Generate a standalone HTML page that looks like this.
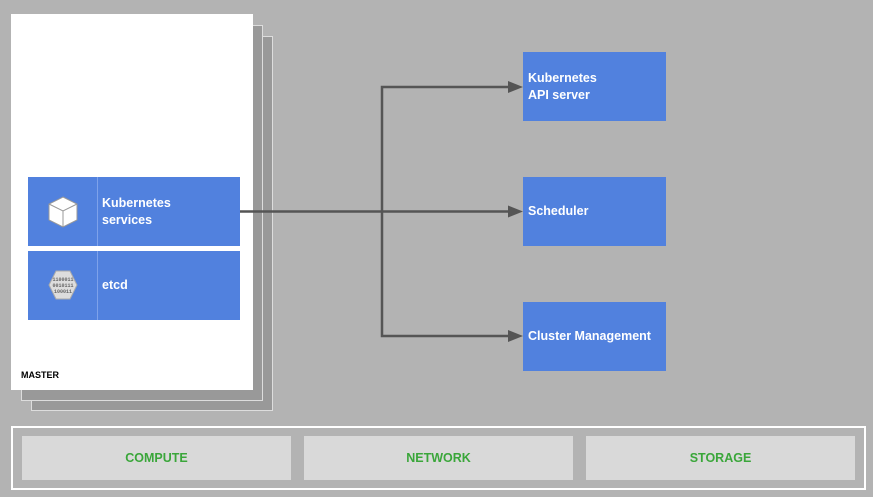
<!DOCTYPE html>
<html><head><style>
body{margin:0;width:873px;height:497px;background:#b3b3b3;position:relative;overflow:hidden;font-family:"Liberation Sans",sans-serif}
div{position:absolute;box-sizing:border-box}
.b{background:#5181de;color:#fff;font-weight:bold;font-size:12.5px;line-height:17px}
.g{background:#d9d9d9;color:#3aa63a;font-weight:bold;font-size:12.5px;text-align:center;line-height:44px;top:436px;height:44px;width:269px}
</style></head><body>
<div style="left:31px;top:36px;width:242px;height:375px;background:#999;border:1px solid #ddd"></div>
<div style="left:21px;top:25px;width:242px;height:376px;background:#999;border:1px solid #ddd"></div>
<div style="left:11px;top:14px;width:242px;height:376px;background:#fff"></div>
<div class="b" style="left:28px;top:177px;width:212px;height:69px"><div style="left:69px;top:0;width:1px;height:69px;background:#7ea2ea"></div><div style="left:74px;top:18px">Kubernetes<br>services</div>
<svg style="position:absolute;left:19px;top:18px" width="32" height="34" viewBox="0 0 32 34"><polygon points="16,2 30,9 30,25 16,32 2,25 2,9" fill="#fff" stroke="#999" stroke-width="1"/><polyline points="2,9 16,16 30,9" fill="none" stroke="#999"/><line x1="16" y1="16" x2="16" y2="32" stroke="#999"/></svg></div>
<div class="b" style="left:28px;top:251px;width:212px;height:69px"><div style="left:69px;top:0;width:1px;height:69px;background:#7ea2ea"></div><div style="left:74px;top:26px">etcd</div>
<svg style="position:absolute;left:19px;top:18px" width="32" height="32" viewBox="0 0 32 32"><polygon points="9,2 23,2 30,16 23,30 9,30 2,16" fill="#ddd" stroke="#aaa"/><text x="16" y="12" font-size="5" text-anchor="middle" fill="#666" font-family="Liberation Mono">1100011</text><text x="16" y="18" font-size="5" text-anchor="middle" fill="#666" font-family="Liberation Mono">0010111</text><text x="16" y="24" font-size="5" text-anchor="middle" fill="#666" font-family="Liberation Mono">100011</text></svg></div>
<div style="left:21px;top:370px;font-size:9px;font-weight:bold;color:#000">MASTER</div>
<svg style="position:absolute;left:0;top:0" width="873" height="497">
<g stroke="#555" stroke-width="2.5" fill="none"><line x1="240" y1="211.5" x2="512" y2="211.5"/><polyline points="512,87 382,87 382,336 512,336"/></g>
<g fill="#555"><polygon points="523,87 508,81 508,93"/><polygon points="523,211.5 508,205.5 508,217.5"/><polygon points="523,336 508,330 508,342"/></g>
</svg>
<div class="b" style="left:523px;top:52px;width:143px;height:69px;padding:18px 0 0 5px">Kubernetes<br>API server</div>
<div class="b" style="left:523px;top:177px;width:143px;height:69px;padding:26px 0 0 5px">Scheduler</div>
<div class="b" style="left:523px;top:302px;width:143px;height:69px;padding:26px 0 0 5px">Cluster Management</div>
<div style="left:11px;top:426px;width:855px;height:64px;border:2px solid #fff;background:#b3b3b3"></div>
<div class="g" style="left:22px">COMPUTE</div>
<div class="g" style="left:304px">NETWORK</div>
<div class="g" style="left:586px">STORAGE</div>
</body></html>
